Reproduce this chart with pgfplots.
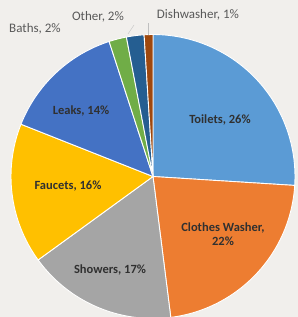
\documentclass[border=0pt]{standalone}
\usepackage{pgfplots}
\usepackage{pgfplotstable}
\pgfplotsset{compat=1.18}
\usepackage{fontspec}
\setmainfont{Carlito}
\definecolor{bg}{HTML}{F1EFEC}
\definecolor{cToilets}{HTML}{5B9BD5}
\definecolor{cWasher}{HTML}{ED7D31}
\definecolor{cShowers}{HTML}{A5A5A5}
\definecolor{cFaucets}{HTML}{FFC000}
\definecolor{cLeaks}{HTML}{4472C4}
\definecolor{cBaths}{HTML}{70AD47}
\definecolor{cOther}{HTML}{255E91}
\definecolor{cDish}{HTML}{9E480E}
\definecolor{lbl}{HTML}{303030}
\definecolor{olbl}{HTML}{595959}
\pgfplotstableread{
label value color
Toilets 26 cToilets
Washer 22 cWasher
Showers 17 cShowers
Faucets 16 cFaucets
Leaks 14 cLeaks
Baths 2 cBaths
Other 2 cOther
Dishwasher 1 cDish
}\datatable
\tikzset{ilbl/.style={text=lbl, font=\fontsize{12.5}{13.5}\selectfont\bfseries, inner sep=0pt},
         olbls/.style={text=olbl, font=\fontsize{13}{14}\selectfont, inner sep=0pt}}
\begin{document}
\begin{tikzpicture}
\useasboundingbox (0,0) rectangle (298pt,317pt);
\clip (0,0) rectangle (298pt,317pt);
\begin{axis}[hide axis, scale only axis, width=298pt, height=317pt,
  xmin=0, xmax=298, ymin=0, ymax=317, clip=false, anchor=south west, at={(0,0)}]
\pgfplotsextra{
  \fill[bg] (axis cs:0,0) rectangle (axis cs:298,317);
  \gdef\cum{0}
  \pgfplotstableforeachcolumnelement{value}\of\datatable\as\v{%
    \pgfmathsetmacro\s{90-3.6*\cum}%
    \pgfmathsetmacro\e{90-3.6*(\cum+\v)}%
    \pgfplotstablegetelem{\pgfplotstablerow}{color}\of\datatable
    \edef\col{\pgfplotsretval}%
    \fill[fill=\col, draw=white, line width=0.9pt, line join=round]
      (axis cs:153,140.5) -- ++(\s:142pt) arc[start angle=\s, end angle=\e, radius=142pt] -- cycle;
    \pgfmathsetmacro\newcum{\cum+\v}%
    \global\let\cum\newcum
  }
  \draw[gray!50, line width=0.4pt] (axis cs:148,282) -- (axis cs:148,294);
  \draw[gray!50, line width=0.4pt] (axis cs:128,283) -- (axis cs:134,292);
}
\node[ilbl] at (axis cs:220,197) {Toilets, 26\%};
\node[ilbl, align=center] at (axis cs:223,83) {Clothes Washer,\\22\%};
\node[ilbl] at (axis cs:110,47) {Showers, 17\%};
\node[ilbl] at (axis cs:68,131) {Faucets, 16\%};
\node[ilbl] at (axis cs:81,206) {Leaks, 14\%};
\node[olbls] at (axis cs:35,288) {Baths, 2\%};
\node[olbls] at (axis cs:98,300) {Other, 2\%};
\node[olbls] at (axis cs:198,302) {Dishwasher, 1\%};
\end{axis}
\end{tikzpicture}
\end{document}
